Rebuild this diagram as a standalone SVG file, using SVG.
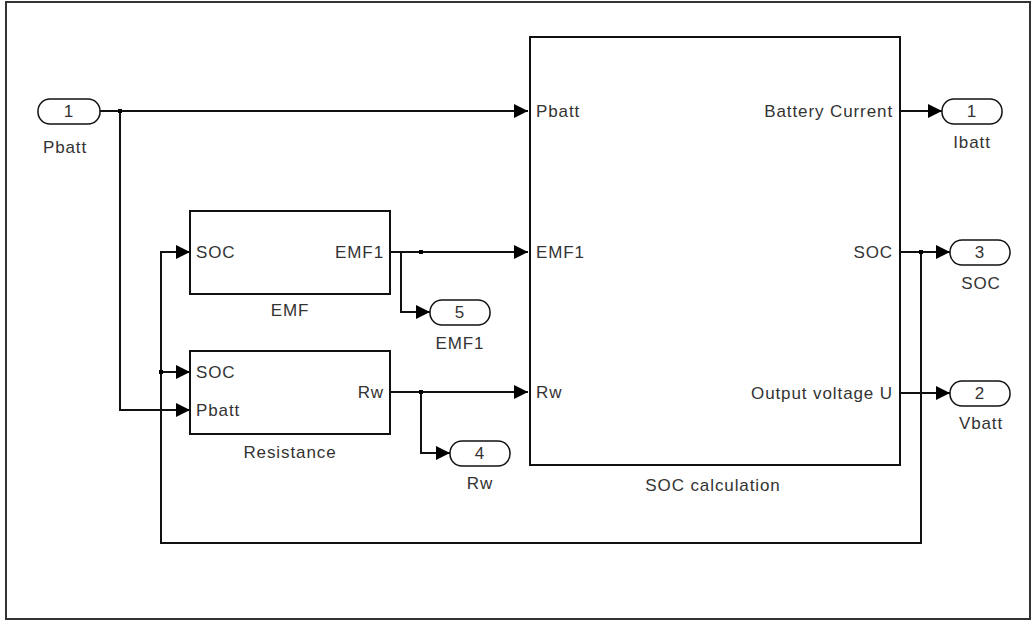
<svg xmlns="http://www.w3.org/2000/svg" width="1035" height="621" viewBox="0 0 1035 621">
<defs>
<marker id="ar" markerWidth="14" markerHeight="14" refX="14" refY="7" orient="auto" markerUnits="userSpaceOnUse">
<path d="M0,0 L14,7 L0,14 Z" fill="#000"/>
</marker>
<style>
.blk{fill:#fff;stroke:#111;stroke-width:2}
.port{fill:#fff;stroke:#111;stroke-width:1.5}
.ln{fill:none;stroke:#111;stroke-width:2}
text{font-family:"Liberation Sans",Arial,sans-serif;font-size:17px;fill:#333;letter-spacing:0.9px}
.m{text-anchor:middle}
.e{text-anchor:end}
.dot{fill:#000}
</style>
</defs>
<rect x="0" y="0" width="1035" height="621" fill="#fff"/>
<rect x="6" y="2" width="1024" height="617" fill="none" stroke="#333" stroke-width="2"/>

<g id="connectors">
<path class="ln" d="M100,111 L528,111" marker-end="url(#ar)"/>
<path class="ln" d="M120,111 L120,410 L190,410" marker-end="url(#ar)"/>
<path class="ln" d="M390,252 L528,252" marker-end="url(#ar)"/>
<path class="ln" d="M401,252 L401,312 L430,312" marker-end="url(#ar)"/>
<path class="ln" d="M390,392 L528,392" marker-end="url(#ar)"/>
<path class="ln" d="M421,392 L421,453 L450,453" marker-end="url(#ar)"/>
<path class="ln" d="M900,111 L942,111" marker-end="url(#ar)"/>
<path class="ln" d="M900,252 L950,252" marker-end="url(#ar)"/>
<path class="ln" d="M900,393 L950,393" marker-end="url(#ar)"/>
<path class="ln" d="M921,252 L921,543 L161,543 L161,252 L190,252" marker-end="url(#ar)"/>
<path class="ln" d="M161,372 L190,372" marker-end="url(#ar)"/>
<rect class="dot" x="118" y="109" width="4" height="4"/>
<rect class="dot" x="419" y="250" width="4" height="4"/>
<rect class="dot" x="419" y="390" width="4" height="4"/>
<rect class="dot" x="919" y="250" width="4" height="4"/>
<rect class="dot" x="159" y="370" width="4" height="4"/>
</g>

<g id="in1">
<rect class="port" x="38" y="99" width="62" height="25" rx="12" ry="12"/>
<text class="m" x="69" y="117">1</text>
<text class="m" x="65" y="153">Pbatt</text>
</g>

<g id="emf">
<rect class="blk" x="190" y="211" width="200" height="83"/>
<text x="196" y="258">SOC</text>
<text class="e" x="384" y="258">EMF1</text>
<text class="m" x="290" y="316">EMF</text>
</g>

<g id="resistance">
<rect class="blk" x="190" y="351" width="200" height="83"/>
<text x="196" y="378">SOC</text>
<text x="196" y="416">Pbatt</text>
<text class="e" x="384" y="398">Rw</text>
<text class="m" x="290" y="458">Resistance</text>
</g>

<g id="soc_calc">
<rect class="blk" x="530" y="37" width="370" height="428"/>
<text x="536" y="117">Pbatt</text>
<text x="536" y="258">EMF1</text>
<text x="536" y="398">Rw</text>
<text class="e" x="893" y="117">Battery Current</text>
<text class="e" x="893" y="258">SOC</text>
<text class="e" x="893" y="399">Output voltage U</text>
<text class="m" x="713" y="491">SOC calculation</text>
</g>

<g id="out5">
<rect class="port" x="430" y="300" width="60" height="25" rx="12" ry="12"/>
<text class="m" x="460" y="318">5</text>
<text class="m" x="460" y="349">EMF1</text>
</g>

<g id="out4">
<rect class="port" x="450" y="441" width="60" height="25" rx="12" ry="12"/>
<text class="m" x="480" y="459">4</text>
<text class="m" x="480" y="489">Rw</text>
</g>

<g id="out1">
<rect class="port" x="942" y="99" width="60" height="25" rx="12" ry="12"/>
<text class="m" x="972" y="117">1</text>
<text class="m" x="972" y="148">Ibatt</text>
</g>

<g id="out3">
<rect class="port" x="950" y="240" width="60" height="25" rx="12" ry="12"/>
<text class="m" x="980" y="258">3</text>
<text class="m" x="981" y="289">SOC</text>
</g>

<g id="out2">
<rect class="port" x="950" y="381" width="60" height="25" rx="12" ry="12"/>
<text class="m" x="980" y="399">2</text>
<text class="m" x="981" y="429">Vbatt</text>
</g>
</svg>
